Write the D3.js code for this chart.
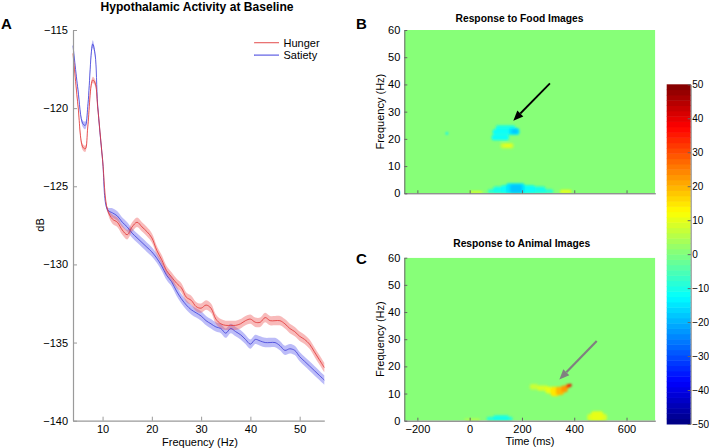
<!DOCTYPE html>
<html><head><meta charset="utf-8">
<script src="https://cdn.jsdelivr.net/npm/d3@7"></script>
<style>
html,body{margin:0;padding:0;background:#fff;}
svg{display:block;font-family:"Liberation Sans",Arial,sans-serif;}
</style></head>
<body>
<svg id="chart" width="709" height="448"></svg>
<script>
// ---------- Panel A data ----------
const freqs = [4,5,6,6.5,7,8,8.5,9,10,11,12,13,14,15,16,17,18,19,20,21,22,23,24,25,26,27,28,29,30,31,32,33,34,35,36,37,38,39,40,41,42,43,44,45,46,47,48,49,50,51,52,53,54,55];
const hunger = [-116.5,-119.8,-122.5,-122.6,-121.2,-118.2,-118.4,-119.9,-123.3,-126.5,
  -127.1,-127.3,-127.8,-128.1,-127.6,-127.3,-127.6,-127.9,-128.3,-129.1,-129.7,-130.4,-130.8,-131.2,-131.5,-132.1,-132.3,-132.7,-132.8,-132.6,-132.8,-133.5,-133.8,-133.9,-133.9,-133.9,-133.8,-133.6,-133.5,-133.7,-133.7,-133.4,-133.6,-133.6,-133.6,-133.8,-134.1,-134.3,-134.6,-134.8,-135.1,-135.6,-136.1,-136.6];
const satiety = [-116.0,-118.8,-121.0,-121.1,-119.9,-115.9,-116.6,-119.8,-123.3,-126.5,
  -126.7,-126.9,-127.3,-127.6,-128.0,-128.3,-128.6,-128.9,-129.2,-129.6,-130.1,-130.7,-131.1,-131.7,-132.2,-132.6,-132.9,-133.1,-133.3,-133.6,-133.8,-134.0,-134.1,-134.4,-134.1,-134.3,-134.5,-134.8,-135.1,-134.8,-134.9,-135.0,-135.0,-135.0,-135.2,-135.5,-135.4,-135.5,-135.9,-136.2,-136.5,-136.8,-137.1,-137.4];
const semHunger = [0.1,0.15,0.2,0.2,0.2,0.2,0.2,0.15,0.1,0.15,
  0.3,0.3,0.3,0.3,0.3,0.3,0.3,0.3,0.3,0.3,0.3,0.3,0.3,0.3,0.3,0.3,0.3,0.3,0.3,0.3,0.3,0.3,0.3,0.3,0.3,0.3,0.3,0.3,0.3,0.3,0.3,0.3,0.3,0.3,0.3,0.3,0.3,0.3,0.3,0.3,0.3,0.3,0.3,0.3];
const semSatiety = [0.1,0.15,0.2,0.25,0.25,0.25,0.2,0.15,0.1,0.15,
  0.3,0.3,0.3,0.3,0.3,0.3,0.3,0.3,0.3,0.3,0.3,0.3,0.3,0.3,0.3,0.3,0.3,0.3,0.3,0.3,0.3,0.3,0.3,0.3,0.3,0.3,0.3,0.3,0.3,0.3,0.3,0.3,0.3,0.3,0.3,0.3,0.3,0.3,0.3,0.3,0.3,0.3,0.3,0.3];
const seriesNames = ["Hunger","Satiety"];
const dbTicks = [-140,-135,-130,-125,-120,-115];
const freqTicks = [10,20,30,40,50];

// ---------- Panels B / C data (cells: [t0, t1, f0, f1, value]) ----------
const foodCells = [
  [70,320,0,1.5,-8],[90,290,0,2.5,-10],[120,250,0,3,-12],[140,210,0,3.7,-15],[155,200,0,3.2,-18],
  [0,50,0,0.8,8],[345,390,0,1.3,10],
  [100,175,23,25,-10],[88,190,21.5,23.5,-12],[84,150,19.5,21.5,-11],
  [150,190,21.5,24,-15],[160,185,22,23.5,-18],
  [118,168,16.5,18.5,7],[130,160,17,18,10],
  [-92,-82,21.5,22.5,-14]
];
const animalCells = [
  [230,262,11.5,13.5,7],[258,300,11,13,8],[290,322,10,12.5,10],[310,342,9,12.5,15],
  [330,360,9.5,12.5,20],[350,375,10.5,13,23],[368,385,12,13.5,30],[378,390,12.5,13.6,40],
  [450,525,0,2.5,8],[465,510,0,3.5,10],
  [65,165,0,1.5,-8],[90,150,0,2,-10],
  [-20,40,0,0.8,6]
];
const timeTicks = [-200,0,200,400,600];
const hzTicks = [0,10,20,30,40,50,60];
const cbTicks = [-50,-40,-30,-20,-10,0,10,20,30,40,50];
const arrowFood = [[307,40.4],[167,26.7]];
const arrowAnimal = [[486,29.3],[343,15.2]];

// ---------- helpers ----------
function jet(x){
  const c = v => Math.max(0, Math.min(1, v));
  const r = c(1.5 - Math.abs(4*x - 3)), g = c(1.5 - Math.abs(4*x - 2)), b = c(1.5 - Math.abs(4*x - 1));
  return d3.rgb(r*255, g*255, b*255).toString();
}
const nLevels = 64;
const colorOf = v => {
  const t = (v + 50) / 100;
  const idx = Math.max(0, Math.min(nLevels-1, Math.floor(t * nLevels)));
  return jet((idx + 0.5) / nLevels);
};

const svg = d3.select("#chart");
const FONT = 11;

// ---------- Panel A ----------
const xA = d3.scaleLinear().domain([4,55]).range([73,324.3]);
const yA = d3.scaleLinear().domain([-140,-115]).range([420.7,30]);
const gA = svg.append("g");

const mk = (vals, sem) => freqs.map((f,i)=>({f, v: vals[i], s: sem[i]}));
const dH = mk(hunger, semHunger), dS = mk(satiety, semSatiety);
const area = d3.area().x(d=>xA(d.f)).y0(d=>yA(d.v - d.s)).y1(d=>yA(d.v + d.s)).curve(d3.curveCatmullRom);
const line = d3.line().x(d=>xA(d.f)).y(d=>yA(d.v)).curve(d3.curveCatmullRom);

gA.append("path").datum(dS).attr("d", area).attr("fill","rgb(95,95,238)").attr("fill-opacity",0.42);
gA.append("path").datum(dH).attr("d", area).attr("fill","rgb(238,90,90)").attr("fill-opacity",0.42);
gA.append("path").datum(dS).attr("d", line).attr("fill","none").attr("stroke","rgb(60,60,215)").attr("stroke-width",0.8);
gA.append("path").datum(dH).attr("d", line).attr("fill","none").attr("stroke","rgb(225,50,50)").attr("stroke-width",0.8);

function styleAxis(g, col, fs){
  g.selectAll(".domain").attr("stroke", col).attr("stroke-width",1.2);
  g.selectAll(".tick line").attr("stroke", col);
  g.selectAll("text").attr("fill","#000").attr("font-size",fs || FONT).attr("font-family",'"Liberation Sans",Arial,sans-serif');
}
const axAy = gA.append("g").attr("transform","translate(73,0)")
  .call(d3.axisLeft(yA).tickValues(dbTicks).tickSizeInner(-4).tickSizeOuter(0).tickPadding(5));
styleAxis(axAy, "#9a9a9a");
const axAx = gA.append("g").attr("transform","translate(0,420.7)")
  .call(d3.axisBottom(xA).tickValues(freqTicks).tickSizeInner(-4).tickSizeOuter(0).tickPadding(5));
styleAxis(axAx, "#9a9a9a");

gA.append("text").attr("x",197).attr("y",10.5).attr("text-anchor","middle")
  .attr("font-size",12).attr("font-weight","bold").attr("textLength",193).attr("lengthAdjust","spacingAndGlyphs")
  .text("Hypothalamic Activity at Baseline");
gA.append("text").attr("x",200).attr("y",446).attr("text-anchor","middle").attr("font-size",FONT).text("Frequency (Hz)");
gA.append("text").attr("transform","translate(43.5,225) rotate(-90)").attr("text-anchor","middle").attr("font-size",FONT).text("dB");
gA.append("text").attr("x",1).attr("y",28.5).attr("font-size",15).attr("font-weight","bold").text("A");

// legend
const legCols = ["rgb(230,90,90)","rgb(80,80,225)"];
seriesNames.forEach((n,i)=>{
  const y = 42.7 + i*12.4;
  gA.append("line").attr("x1",254).attr("x2",279).attr("y1",y).attr("y2",y).attr("stroke",legCols[i]).attr("stroke-width",1.1);
  gA.append("text").attr("x",283.5).attr("y",y+3.9).attr("font-size",FONT).text(n);
});

// ---------- Panels B / C ----------
const xT = d3.scaleLinear().domain([-250,710]).range([404.3,655.3]);
const defs = svg.append("defs");
defs.append("filter").attr("id","soft").attr("x","-20%").attr("y","-20%").attr("width","140%").attr("height","140%")
  .append("feGaussianBlur").attr("stdDeviation",1.3);

function heatPanel(id, yScale, cells, title, titleX, titleY, titleW, letter, letterY, showX, arrow, arrowCol, arrowW){
  const g = svg.append("g");
  const [y0, y1] = yScale.range();
  defs.append("clipPath").attr("id","clip"+id).append("rect")
    .attr("x", xT.range()[0]).attr("y", y1).attr("width", xT.range()[1]-xT.range()[0]).attr("height", y0-y1);
  const body = g.append("g").attr("clip-path","url(#clip"+id+")");
  body.append("rect").attr("x", xT.range()[0]).attr("y", y1).attr("width", xT.range()[1]-xT.range()[0]).attr("height", y0-y1).attr("fill", colorOf(0));
  const cg = body.append("g").attr("filter","url(#soft)");
  cg.selectAll("rect").data(cells).join("rect")
    .attr("x", d=>xT(d[0])).attr("width", d=>xT(d[1])-xT(d[0]))
    .attr("y", d=>yScale(d[3])).attr("height", d=>yScale(d[2])-yScale(d[3]))
    .attr("rx",2).attr("fill", d=>colorOf(d[4]));
  // arrow
  const [p0, p1] = arrow.map(p=>[xT(p[0]), yScale(p[1])]);
  const ang = Math.atan2(p1[1]-p0[1], p1[0]-p0[0]);
  const hl = 10, hw = 4.2;
  const bx = p1[0] - hl*Math.cos(ang), by = p1[1] - hl*Math.sin(ang);
  g.append("line").attr("x1",p0[0]).attr("y1",p0[1]).attr("x2",bx).attr("y2",by).attr("stroke",arrowCol).attr("stroke-width",arrowW);
  g.append("path").attr("d", `M${p1[0]},${p1[1]} L${bx + hw*Math.sin(ang)},${by - hw*Math.cos(ang)} L${bx - hw*Math.sin(ang)},${by + hw*Math.cos(ang)} Z`)
    .attr("fill", arrowCol);

  const ay = g.append("g").attr("transform",`translate(${xT.range()[0]},0)`)
    .call(d3.axisLeft(yScale).tickValues(hzTicks).tickSizeInner(-3).tickSizeOuter(0).tickPadding(4));
  styleAxis(ay, "#666");
  const ax = g.append("g").attr("transform",`translate(0,${y0})`)
    .call(d3.axisBottom(xT).tickValues(timeTicks).tickSizeInner(-3).tickSizeOuter(0).tickPadding(5).tickFormat(showX ? d3.format("d") : ""));
  styleAxis(ax, "#666");
  ay.selectAll(".domain").attr("stroke-width",1);
  ax.selectAll(".domain").attr("stroke-width",1);

  g.append("text").attr("x", titleX).attr("y", titleY).attr("text-anchor","middle")
    .attr("font-size",11).attr("font-weight","bold").attr("textLength",titleW).attr("lengthAdjust","spacingAndGlyphs").text(title);
  g.append("text").attr("transform",`translate(384,${(y0+y1)/2}) rotate(-90)`).attr("text-anchor","middle").attr("font-size",FONT).text("Frequency (Hz)");
  g.append("text").attr("x",356).attr("y",letterY).attr("font-size",15).attr("font-weight","bold").text(letter);
  if (showX) g.append("text").attr("x",530).attr("y",444.5).attr("text-anchor","middle").attr("font-size",FONT).text("Time (ms)");
}
const yB = d3.scaleLinear().domain([0,60]).range([193.3,30]);
const yC = d3.scaleLinear().domain([0,60]).range([420.7,257.7]);
heatPanel("B", yB, foodCells, "Response to Food Images", 519.5, 22, 128, "B", 28.5, false, arrowFood, "#000", 1.8);
heatPanel("C", yC, animalCells, "Response to Animal Images", 521.7, 247, 137, "C", 264, true, arrowAnimal, "#808080", 2.2);

// ---------- Colorbar ----------
const yCb = d3.scaleLinear().domain([-50,50]).range([424,84.3]);
const cbX0 = 666.7, cbX1 = 690.7;
const levels = d3.range(nLevels).map(i => -50 + (i + 0.5) * 100 / nLevels);
const step = 100 / nLevels;
svg.append("g").selectAll("rect").data(levels).join("rect")
  .attr("x", cbX0).attr("width", cbX1 - cbX0)
  .attr("y", d => yCb(d + step/2)).attr("height", d => yCb(d - step/2) - yCb(d + step/2) + 0.5)
  .attr("fill", d => colorOf(d));
const cbAx = svg.append("g").attr("transform",`translate(${cbX1},0)`)
  .call(d3.axisRight(yCb).tickValues(cbTicks).tickSizeInner(-3).tickSizeOuter(0).tickPadding(1.5));
styleAxis(cbAx, "#666", 10);
cbAx.selectAll(".domain").attr("stroke-width",0.8);
</script>
</body></html>
